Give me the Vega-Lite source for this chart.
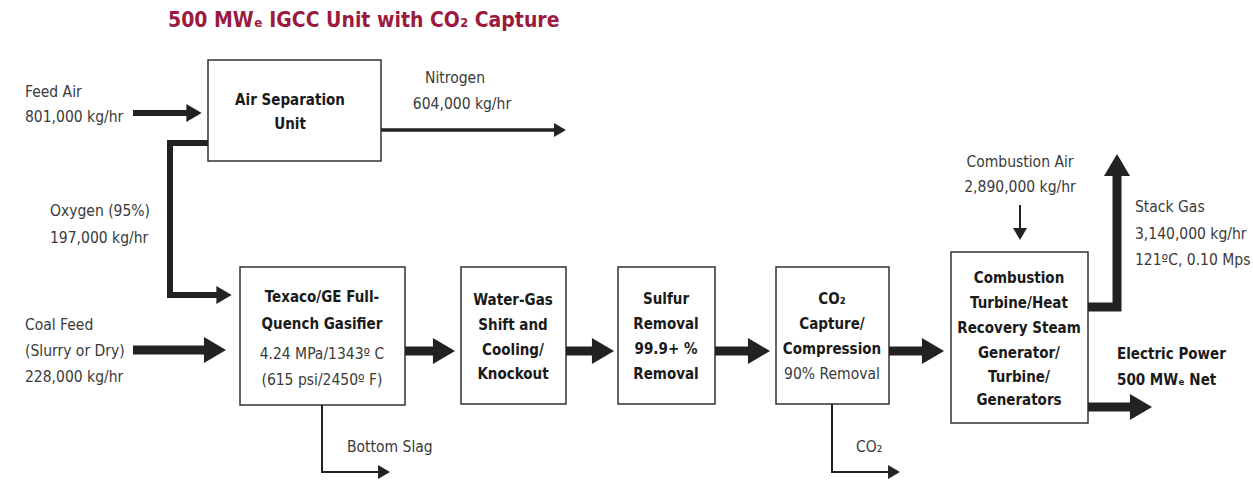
{
  "$schema": "https://vega.github.io/schema/vega-lite/v6.json",
  "width": 1253,
  "height": 480,
  "autosize": {"type": "none"},
  "padding": 0,
  "background": "white",
  "config": {"view": {"stroke": null}, "axis": {"disable": true}},
  "datasets": {
    "boxes": [
      {"box": "Air Separation Unit", "x1": 208, "x2": 381, "y1": 60, "y2": 161},
      {"box": "Gasifier", "x1": 240, "x2": 405, "y1": 267, "y2": 405},
      {"box": "Water-Gas Shift", "x1": 461, "x2": 566, "y1": 267, "y2": 404},
      {"box": "Sulfur Removal", "x1": 618, "x2": 715, "y1": 267, "y2": 404},
      {"box": "CO2 Capture", "x1": 776, "x2": 889, "y1": 267, "y2": 404},
      {"box": "Combustion Turbine", "x1": 951, "x2": 1088, "y1": 252, "y2": 423}
    ],
    "flows": [
      {"id": "coal", "kind": "main", "o": 1, "x": 133, "y": 350},
      {"id": "coal", "kind": "main", "o": 2, "x": 212, "y": 350},
      {"id": "g2w", "kind": "main", "o": 1, "x": 405, "y": 351},
      {"id": "g2w", "kind": "main", "o": 2, "x": 441, "y": 351},
      {"id": "w2s", "kind": "main", "o": 1, "x": 566, "y": 351},
      {"id": "w2s", "kind": "main", "o": 2, "x": 600, "y": 351},
      {"id": "s2c", "kind": "main", "o": 1, "x": 715, "y": 351},
      {"id": "s2c", "kind": "main", "o": 2, "x": 756, "y": 351},
      {"id": "c2t", "kind": "main", "o": 1, "x": 889, "y": 351},
      {"id": "c2t", "kind": "main", "o": 2, "x": 930, "y": 351},
      {"id": "power", "kind": "main", "o": 1, "x": 1088, "y": 407},
      {"id": "power", "kind": "main", "o": 2, "x": 1138, "y": 407},
      {"id": "stack", "kind": "main", "o": 1, "x": 1088, "y": 307},
      {"id": "stack", "kind": "main", "o": 2, "x": 1117, "y": 307},
      {"id": "stack", "kind": "main", "o": 3, "x": 1117, "y": 168},
      {"id": "feedair", "kind": "feed", "o": 1, "x": 133, "y": 113},
      {"id": "feedair", "kind": "feed", "o": 2, "x": 192, "y": 113},
      {"id": "oxygen", "kind": "feed", "o": 1, "x": 208, "y": 143},
      {"id": "oxygen", "kind": "feed", "o": 2, "x": 170, "y": 143},
      {"id": "oxygen", "kind": "feed", "o": 3, "x": 170, "y": 295},
      {"id": "oxygen", "kind": "feed", "o": 4, "x": 222, "y": 295},
      {"id": "nitrogen", "kind": "thin", "o": 1, "x": 381, "y": 130},
      {"id": "nitrogen", "kind": "thin", "o": 2, "x": 558, "y": 130},
      {"id": "combair", "kind": "fine", "o": 1, "x": 1020, "y": 205},
      {"id": "combair", "kind": "fine", "o": 2, "x": 1020, "y": 232},
      {"id": "slag", "kind": "fine", "o": 1, "x": 322, "y": 405},
      {"id": "slag", "kind": "fine", "o": 2, "x": 322, "y": 472},
      {"id": "slag", "kind": "fine", "o": 3, "x": 382, "y": 472},
      {"id": "co2out", "kind": "fine", "o": 1, "x": 832, "y": 404},
      {"id": "co2out", "kind": "fine", "o": 2, "x": 832, "y": 472},
      {"id": "co2out", "kind": "fine", "o": 3, "x": 892, "y": 472}
    ],
    "heads": [
      {"id": "coal", "kind": "main", "x": 215, "y": 350, "dir": 0},
      {"id": "g2w", "kind": "main", "x": 444, "y": 351, "dir": 0},
      {"id": "w2s", "kind": "main", "x": 603, "y": 351, "dir": 0},
      {"id": "s2c", "kind": "main", "x": 759, "y": 351, "dir": 0},
      {"id": "c2t", "kind": "main", "x": 933, "y": 351, "dir": 0},
      {"id": "power", "kind": "main", "x": 1141, "y": 407, "dir": 0},
      {"id": "stack", "kind": "main", "x": 1117, "y": 165, "dir": -90},
      {"id": "feedair", "kind": "feed", "x": 194, "y": 113, "dir": 0},
      {"id": "oxygen", "kind": "feed", "x": 224, "y": 295, "dir": 0},
      {"id": "nitrogen", "kind": "thin", "x": 560, "y": 130, "dir": 0},
      {"id": "combair", "kind": "thin", "x": 1020, "y": 234, "dir": 90},
      {"id": "slag", "kind": "thin", "x": 384, "y": 472, "dir": 0},
      {"id": "co2out", "kind": "thin", "x": 894, "y": 472, "dir": 0}
    ],
    "labels": [
      {"kind": "note", "align": "left", "x": 25, "y": 92, "text": "Feed Air"},
      {"kind": "note", "align": "left", "x": 25, "y": 117, "text": "801,000 kg/hr"},
      {"kind": "note", "align": "center", "x": 455, "y": 78, "text": "Nitrogen"},
      {"kind": "note", "align": "center", "x": 462, "y": 104, "text": "604,000 kg/hr"},
      {"kind": "note", "align": "left", "x": 50, "y": 211, "text": "Oxygen (95%)"},
      {"kind": "note", "align": "left", "x": 50, "y": 238, "text": "197,000 kg/hr"},
      {"kind": "note", "align": "left", "x": 25, "y": 325, "text": "Coal Feed"},
      {"kind": "note", "align": "left", "x": 25, "y": 351, "text": "(Slurry or Dry)"},
      {"kind": "note", "align": "left", "x": 25, "y": 377, "text": "228,000 kg/hr"},
      {"kind": "note", "align": "center", "x": 322, "y": 354, "text": "4.24 MPa/1343º C"},
      {"kind": "note", "align": "center", "x": 322, "y": 380, "text": "(615 psi/2450º F)"},
      {"kind": "note", "align": "center", "x": 832, "y": 374, "text": "90% Removal"},
      {"kind": "note", "align": "center", "x": 1020, "y": 162, "text": "Combustion Air"},
      {"kind": "note", "align": "center", "x": 1020, "y": 187, "text": "2,890,000 kg/hr"},
      {"kind": "note", "align": "left", "x": 1135, "y": 207, "text": "Stack Gas"},
      {"kind": "note", "align": "left", "x": 1135, "y": 234, "text": "3,140,000 kg/hr"},
      {"kind": "note", "align": "left", "x": 1135, "y": 260, "text": "121ºC, 0.10 Mps"},
      {"kind": "note", "align": "left", "x": 347, "y": 447, "text": "Bottom Slag"},
      {"kind": "note", "align": "left", "x": 856, "y": 447, "text": "CO₂"},
      {"kind": "bold", "align": "center", "x": 290, "y": 100, "text": "Air Separation"},
      {"kind": "bold", "align": "center", "x": 290, "y": 124, "text": "Unit"},
      {"kind": "bold", "align": "center", "x": 322, "y": 297, "text": "Texaco/GE Full-"},
      {"kind": "bold", "align": "center", "x": 322, "y": 324, "text": "Quench Gasifier"},
      {"kind": "bold", "align": "center", "x": 513, "y": 300, "text": "Water-Gas"},
      {"kind": "bold", "align": "center", "x": 513, "y": 325, "text": "Shift and"},
      {"kind": "bold", "align": "center", "x": 513, "y": 350, "text": "Cooling/"},
      {"kind": "bold", "align": "center", "x": 513, "y": 374, "text": "Knockout"},
      {"kind": "bold", "align": "center", "x": 666, "y": 299, "text": "Sulfur"},
      {"kind": "bold", "align": "center", "x": 666, "y": 324, "text": "Removal"},
      {"kind": "bold", "align": "center", "x": 666, "y": 349, "text": "99.9+ %"},
      {"kind": "bold", "align": "center", "x": 666, "y": 374, "text": "Removal"},
      {"kind": "bold", "align": "center", "x": 832, "y": 299, "text": "CO₂"},
      {"kind": "bold", "align": "center", "x": 832, "y": 324, "text": "Capture/"},
      {"kind": "bold", "align": "center", "x": 832, "y": 349, "text": "Compression"},
      {"kind": "bold", "align": "center", "x": 1019, "y": 278, "text": "Combustion"},
      {"kind": "bold", "align": "center", "x": 1019, "y": 303, "text": "Turbine/Heat"},
      {"kind": "bold", "align": "center", "x": 1019, "y": 328, "text": "Recovery Steam"},
      {"kind": "bold", "align": "center", "x": 1019, "y": 353, "text": "Generator/"},
      {"kind": "bold", "align": "center", "x": 1019, "y": 377, "text": "Turbine/"},
      {"kind": "bold", "align": "center", "x": 1019, "y": 400, "text": "Generators"},
      {"kind": "bold", "align": "left", "x": 1117, "y": 354, "text": "Electric Power"},
      {"kind": "bold", "align": "left", "x": 1117, "y": 380, "text": "500 MWₑ Net"},
      {"kind": "title", "align": "left", "x": 168, "y": 21, "text": "500 MWₑ IGCC Unit with CO₂ Capture"}
    ]
  },
  "layer": [
    {
      "data": {"name": "boxes"},
      "mark": {"type": "rect", "fill": "white", "stroke": "#333333", "strokeWidth": 1.5},
      "encoding": {
        "x": {"field": "x1", "type": "quantitative", "scale": {"domain": [0, 1253], "nice": false, "zero": false}},
        "x2": {"field": "x2"},
        "y": {"field": "y1", "type": "quantitative", "scale": {"domain": [0, 480], "reverse": true, "nice": false, "zero": false}},
        "y2": {"field": "y2"}
      }
    },
    {
      "data": {"name": "flows"},
      "transform": [{"filter": "datum.kind === 'main'"}],
      "mark": {"type": "line", "color": "#222222", "strokeWidth": 9, "strokeCap": "butt", "strokeJoin": "miter"},
      "encoding": {
        "x": {"field": "x", "type": "quantitative", "scale": {"domain": [0, 1253], "nice": false, "zero": false}},
        "y": {"field": "y", "type": "quantitative", "scale": {"domain": [0, 480], "reverse": true, "nice": false, "zero": false}},
        "detail": {"field": "id"},
        "order": {"field": "o", "type": "quantitative"}
      }
    },
    {
      "data": {"name": "flows"},
      "transform": [{"filter": "datum.kind === 'feed'"}],
      "mark": {"type": "line", "color": "#222222", "strokeWidth": 6, "strokeCap": "butt", "strokeJoin": "miter"},
      "encoding": {
        "x": {"field": "x", "type": "quantitative", "scale": {"domain": [0, 1253], "nice": false, "zero": false}},
        "y": {"field": "y", "type": "quantitative", "scale": {"domain": [0, 480], "reverse": true, "nice": false, "zero": false}},
        "detail": {"field": "id"},
        "order": {"field": "o", "type": "quantitative"}
      }
    },
    {
      "data": {"name": "flows"},
      "transform": [{"filter": "datum.kind === 'thin'"}],
      "mark": {"type": "line", "color": "#222222", "strokeWidth": 3.5, "strokeCap": "butt", "strokeJoin": "miter"},
      "encoding": {
        "x": {"field": "x", "type": "quantitative", "scale": {"domain": [0, 1253], "nice": false, "zero": false}},
        "y": {"field": "y", "type": "quantitative", "scale": {"domain": [0, 480], "reverse": true, "nice": false, "zero": false}},
        "detail": {"field": "id"},
        "order": {"field": "o", "type": "quantitative"}
      }
    },
    {
      "data": {"name": "flows"},
      "transform": [{"filter": "datum.kind === 'fine'"}],
      "mark": {"type": "line", "color": "#222222", "strokeWidth": 2, "strokeCap": "butt", "strokeJoin": "miter"},
      "encoding": {
        "x": {"field": "x", "type": "quantitative", "scale": {"domain": [0, 1253], "nice": false, "zero": false}},
        "y": {"field": "y", "type": "quantitative", "scale": {"domain": [0, 480], "reverse": true, "nice": false, "zero": false}},
        "detail": {"field": "id"},
        "order": {"field": "o", "type": "quantitative"}
      }
    },
    {
      "data": {"name": "heads"},
      "transform": [{"filter": "datum.kind === 'main'"}],
      "mark": {"type": "point", "shape": "M-0.85,-1L0.85,0L-0.85,1Z", "filled": true, "color": "#222222", "opacity": 1, "size": 676},
      "encoding": {
        "x": {"field": "x", "type": "quantitative", "scale": {"domain": [0, 1253], "nice": false, "zero": false}},
        "y": {"field": "y", "type": "quantitative", "scale": {"domain": [0, 480], "reverse": true, "nice": false, "zero": false}},
        "angle": {"field": "dir", "type": "quantitative", "scale": null}
      }
    },
    {
      "data": {"name": "heads"},
      "transform": [{"filter": "datum.kind === 'feed'"}],
      "mark": {"type": "point", "shape": "M-0.85,-1L0.85,0L-0.85,1Z", "filled": true, "color": "#222222", "opacity": 1, "size": 324},
      "encoding": {
        "x": {"field": "x", "type": "quantitative", "scale": {"domain": [0, 1253], "nice": false, "zero": false}},
        "y": {"field": "y", "type": "quantitative", "scale": {"domain": [0, 480], "reverse": true, "nice": false, "zero": false}},
        "angle": {"field": "dir", "type": "quantitative", "scale": null}
      }
    },
    {
      "data": {"name": "heads"},
      "transform": [{"filter": "datum.kind === 'thin'"}],
      "mark": {"type": "point", "shape": "M-0.85,-1L0.85,0L-0.85,1Z", "filled": true, "color": "#222222", "opacity": 1, "size": 196},
      "encoding": {
        "x": {"field": "x", "type": "quantitative", "scale": {"domain": [0, 1253], "nice": false, "zero": false}},
        "y": {"field": "y", "type": "quantitative", "scale": {"domain": [0, 480], "reverse": true, "nice": false, "zero": false}},
        "angle": {"field": "dir", "type": "quantitative", "scale": null}
      }
    },
    {
      "data": {"name": "labels"},
      "transform": [{"filter": "datum.kind === 'note' && datum.align === 'left'"}],
      "mark": {"type": "text", "baseline": "middle", "align": "left", "font": "DejaVu Sans Condensed, DejaVu Sans, sans-serif", "fontSize": 15.5, "color": "#3a3a3a"},
      "encoding": {
        "x": {"field": "x", "type": "quantitative", "scale": {"domain": [0, 1253], "nice": false, "zero": false}},
        "y": {"field": "y", "type": "quantitative", "scale": {"domain": [0, 480], "reverse": true, "nice": false, "zero": false}},
        "text": {"field": "text"}
      }
    },
    {
      "data": {"name": "labels"},
      "transform": [{"filter": "datum.kind === 'note' && datum.align === 'center'"}],
      "mark": {"type": "text", "baseline": "middle", "align": "center", "font": "DejaVu Sans Condensed, DejaVu Sans, sans-serif", "fontSize": 15.5, "color": "#3a3a3a"},
      "encoding": {
        "x": {"field": "x", "type": "quantitative", "scale": {"domain": [0, 1253], "nice": false, "zero": false}},
        "y": {"field": "y", "type": "quantitative", "scale": {"domain": [0, 480], "reverse": true, "nice": false, "zero": false}},
        "text": {"field": "text"}
      }
    },
    {
      "data": {"name": "labels"},
      "transform": [{"filter": "datum.kind === 'bold' && datum.align === 'center'"}],
      "mark": {"type": "text", "baseline": "middle", "align": "center", "font": "DejaVu Sans Condensed, DejaVu Sans, sans-serif", "fontSize": 15, "fontWeight": "bold", "color": "#1a1a1a"},
      "encoding": {
        "x": {"field": "x", "type": "quantitative", "scale": {"domain": [0, 1253], "nice": false, "zero": false}},
        "y": {"field": "y", "type": "quantitative", "scale": {"domain": [0, 480], "reverse": true, "nice": false, "zero": false}},
        "text": {"field": "text"}
      }
    },
    {
      "data": {"name": "labels"},
      "transform": [{"filter": "datum.kind === 'bold' && datum.align === 'left'"}],
      "mark": {"type": "text", "baseline": "middle", "align": "left", "font": "DejaVu Sans Condensed, DejaVu Sans, sans-serif", "fontSize": 15, "fontWeight": "bold", "color": "#1a1a1a"},
      "encoding": {
        "x": {"field": "x", "type": "quantitative", "scale": {"domain": [0, 1253], "nice": false, "zero": false}},
        "y": {"field": "y", "type": "quantitative", "scale": {"domain": [0, 480], "reverse": true, "nice": false, "zero": false}},
        "text": {"field": "text"}
      }
    },
    {
      "data": {"name": "labels"},
      "transform": [{"filter": "datum.kind === 'title'"}],
      "mark": {"type": "text", "baseline": "middle", "align": "left", "font": "DejaVu Sans Condensed, DejaVu Sans, sans-serif", "fontSize": 21, "fontWeight": "bold", "color": "#9b1b3f"},
      "encoding": {
        "x": {"field": "x", "type": "quantitative", "scale": {"domain": [0, 1253], "nice": false, "zero": false}},
        "y": {"field": "y", "type": "quantitative", "scale": {"domain": [0, 480], "reverse": true, "nice": false, "zero": false}},
        "text": {"field": "text"}
      }
    }
  ]
}
